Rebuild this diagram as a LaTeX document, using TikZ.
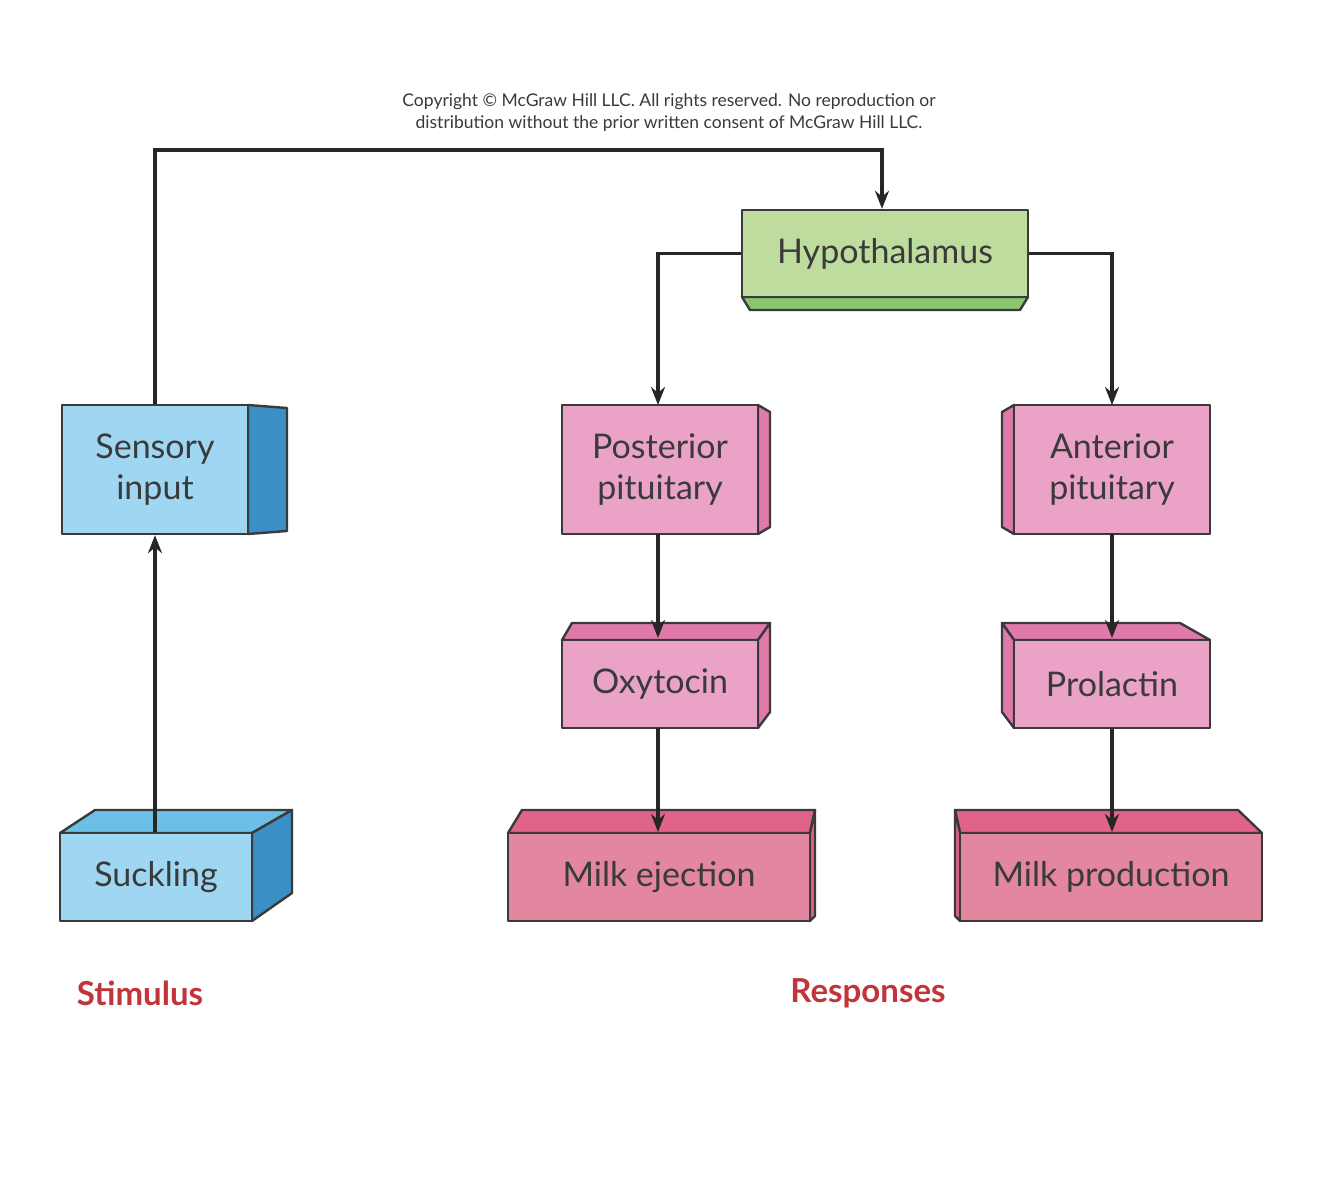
\documentclass[tikz,border=0pt]{standalone}
\usepackage{fontspec}
\setmainfont{Lato}
\usetikzlibrary{arrows.meta}
\definecolor{bfront}{HTML}{9FD6F2}\definecolor{bside}{HTML}{3A8FC4}\definecolor{btop}{HTML}{6CC0E8}
\definecolor{pfront}{HTML}{EAA3C6}\definecolor{pside}{HTML}{E07AAA}
\definecolor{mfront}{HTML}{E2879F}\definecolor{mtop}{HTML}{E0648A}
\definecolor{gfront}{HTML}{BFDC9F}\definecolor{gside}{HTML}{8CC56F}
\definecolor{lab}{HTML}{C0343A}\definecolor{txt}{HTML}{3A3A3A}
\begin{document}
\begin{tikzpicture}[x=1pt,y=-1pt,
 face/.style={draw=txt,line width=2.4pt,line join=round},
 box/.style={face,minimum width=#1,inner sep=0pt,align=center,font=\fontsize{34}{41}\selectfont,text=txt},
 arr/.style={line width=3.2pt,draw=black!85,-{Stealth[length=18pt,width=14pt]}},
 lbl/.style={font=\bfseries\fontsize{33}{40}\selectfont,text=lab}]
\useasboundingbox (0,0) rectangle (1333,1200);
\fill[white] (0,0) rectangle (1333,1200);
\node[font=\fontsize{17.5}{22}\selectfont,align=center,text=txt] (copy) at (669,113) {Copyright © McGraw Hill LLC. All rights reserved. No reproduction or\\distribution without the prior written consent of McGraw Hill LLC.};
% side faces
\draw[face,fill=gside] (742,297) -- (1028,297) -- (1020,310) -- (750,310) -- cycle;
\draw[face,fill=bside] (248,405) -- (287,408) -- (287,531) -- (248,534) -- cycle;
\draw[face,fill=pside] (758,405) -- (770,412) -- (770,527) -- (758,534) -- cycle;
\draw[face,fill=pside] (1014,405) -- (1002,412) -- (1002,527) -- (1014,534) -- cycle;
\draw[face,fill=pside] (562,640) -- (572,623) -- (770,623) -- (758,640) -- cycle;
\draw[face,fill=pside] (758,640) -- (770,623) -- (770,712) -- (758,728) -- cycle;
\draw[face,fill=pside] (1014,640) -- (1002,623) -- (1180,623) -- (1210,640) -- cycle;
\draw[face,fill=pside] (1014,640) -- (1002,623) -- (1002,712) -- (1014,728) -- cycle;
\draw[face,fill=btop] (60,833) -- (95,810) -- (292,810) -- (252,833) -- cycle;
\draw[face,fill=bside] (252,833) -- (292,810) -- (292,893) -- (252,921) -- cycle;
\draw[face,fill=mtop] (508,833) -- (522,810) -- (815,810) -- (810,833) -- cycle;
\draw[face,fill=mtop] (810,833) -- (815,810) -- (815,916) -- (810,921) -- cycle;
\draw[face,fill=mtop] (960,833) -- (955,810) -- (1238,810) -- (1262,833) -- cycle;
\draw[face,fill=mtop] (960,833) -- (955,810) -- (955,916) -- (960,921) -- cycle;
% front faces
\node[box=286pt,minimum height=87pt,fill=gfront] (hyp) at (885,253.5) {Hypothalamus};
\node[box=186pt,minimum height=129pt,fill=bfront] (sens) at (155,469.5) {Sensory\\input};
\node[box=196pt,minimum height=129pt,fill=pfront] (post) at (660,469.5) {Posterior\\pituitary};
\node[box=196pt,minimum height=129pt,fill=pfront] (ant) at (1112,469.5) {Anterior\\pituitary};
\node[box=196pt,minimum height=88pt,fill=pfront] (oxy) at (660,684) {Oxytocin};
\node[box=196pt,minimum height=88pt,fill=pfront] (prl) at (1112,684) {Prolactin};
\node[box=192pt,minimum height=88pt,fill=bfront] (suck) at (156,877) {Suckling};
\node[box=302pt,minimum height=88pt,fill=mfront] (milke) at (659,877) {Milk ejection};
\node[box=302pt,minimum height=88pt,fill=mfront] (milkp) at (1111,877) {Milk production};
\node[lbl] (stim) at (140,993) {Stimulus};
\node[lbl] (resp) at (868,993) {Responses};
% connectors
\coordinate (c1) at (155,150);\coordinate (c2) at (882,150);
\draw[arr] (sens.north) -- (c1) -- (c2) -- (c2 |- hyp.north);
\draw[arr] (hyp.west) -| (658,405);
\draw[arr] (hyp.east) -| (1112,405);
\draw[arr] (suck.north -| sens) -- (sens.south);
\draw[arr] (658,534) -- (658,638);
\draw[arr] (1112,534) -- (1112,638);
\draw[arr] (658,728) -- (658,832);
\draw[arr] (1112,728) -- (1112,832);
\end{tikzpicture}
\end{document}
